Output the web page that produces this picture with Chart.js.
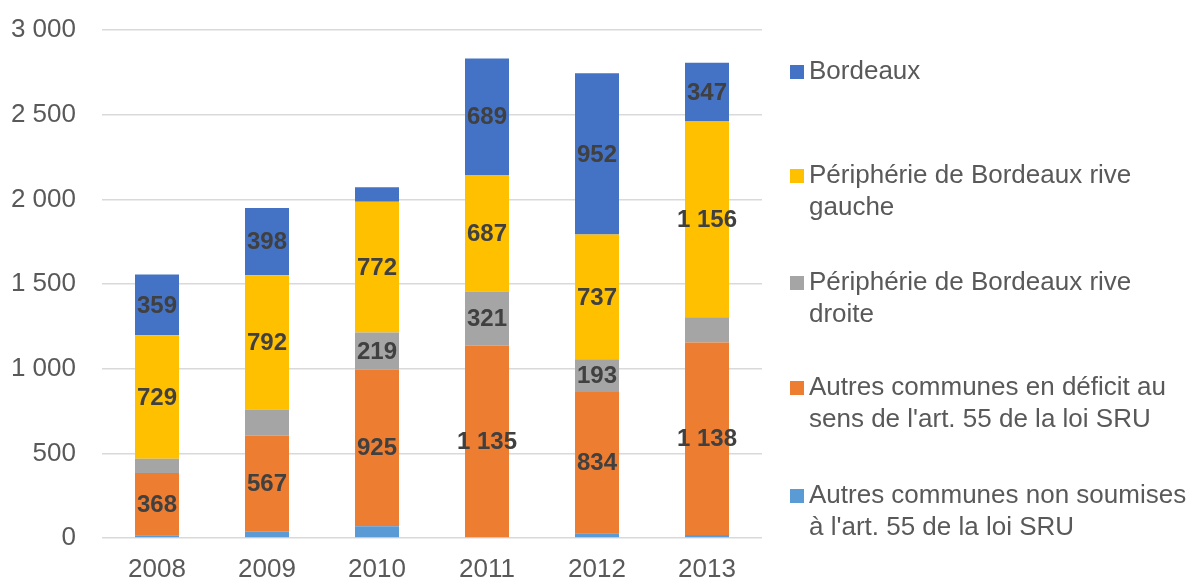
<!DOCTYPE html>
<html>
<head>
<meta charset="utf-8">
<script src="https://cdn.jsdelivr.net/npm/chart.js@4/dist/chart.umd.min.js"></script>
<style>
  html, body { margin: 0; padding: 0; background: #fff; }
  #wrap { width: 1197px; height: 579px; position: relative; }
</style>
</head>
<body>
<div id="wrap"><canvas id="chart" width="1197" height="579"></canvas></div>
<script>
// ===== data =====
const years = ['2008', '2009', '2010', '2011', '2012', '2013'];

const nonSoumises = [16, 37, 70, 0, 28, 17];
const deficit     = [368, 567, 925, 1135, 834, 1138];
const riveDroite  = [84, 155, 219, 321, 193, 149];
const riveGauche  = [729, 792, 772, 687, 737, 1156];
const bordeaux    = [359, 398, 85, 689, 952, 347];

const seriesNames = [
  "Autres communes non soumises à l'art. 55 de la loi SRU",
  "Autres communes en déficit au sens de l'art. 55 de la loi SRU",
  'Périphérie de Bordeaux rive droite',
  'Périphérie de Bordeaux rive gauche',
  'Bordeaux'
];
const seriesColors = ['#5B9BD5', '#ED7D31', '#A5A5A5', '#FFC000', '#4472C4'];
const yTicks = [0, 500, 1000, 1500, 2000, 2500, 3000];

// "3 000" style numbers
const fmt = v => String(v).replace(/\B(?=(\d{3})+(?!\d))/g, ' ');

const FONT = '"Liberation Sans", Arial, sans-serif';

// ===== value labels inside segments =====
const segmentLabels = {
  id: 'segmentLabels',
  afterDatasetsDraw(chart) {
    const ctx = chart.ctx;
    ctx.save();
    ctx.font = 'bold 24px ' + FONT;
    ctx.fillStyle = '#404040';
    ctx.textAlign = 'center';
    ctx.textBaseline = 'middle';
    chart.data.datasets.forEach((ds, i) => {
      const meta = chart.getDatasetMeta(i);
      meta.data.forEach((bar, j) => {
        const v = ds.data[j];
        if (v < 180) return;
        ctx.fillText(fmt(v), bar.x, (bar.y + bar.base) / 2 + 1);
      });
    });
    ctx.restore();
  }
};

// ===== legend on the right, wrapped text =====
const sideLegend = {
  id: 'sideLegend',
  afterDraw(chart) {
    const ctx = chart.ctx;
    const left = 790, maxW = 392, lineH = 32;
    const rows = [72, 176, 283, 388, 496];
    ctx.save();
    ctx.font = '26px ' + FONT;
    ctx.textBaseline = 'middle';
    ctx.textAlign = 'left';
    const order = chart.data.datasets.slice().reverse();
    order.forEach((ds, k) => {
      const y = rows[k];
      ctx.fillStyle = ds.backgroundColor;
      ctx.fillRect(left, y - 7, 14, 14);
      ctx.fillStyle = '#595959';
      const words = ds.label.split(' ');
      let line = '', ly = y;
      words.forEach(w => {
        const test = line ? line + ' ' + w : w;
        if (ctx.measureText(test).width > maxW && line) {
          ctx.fillText(line, left + 19, ly);
          line = w;
          ly += lineH;
        } else {
          line = test;
        }
      });
      ctx.fillText(line, left + 19, ly);
    });
    ctx.restore();
  }
};

const seriesData = [nonSoumises, deficit, riveDroite, riveGauche, bordeaux];

new Chart(document.getElementById('chart'), {
  type: 'bar',
  data: {
    labels: years,
    datasets: seriesData.map((d, i) => ({
      label: seriesNames[i],
      data: d,
      backgroundColor: seriesColors[i],
      borderWidth: 0,
      categoryPercentage: 1,
      barPercentage: 0.4
    }))
  },
  options: {
    responsive: false,
    animation: false,
    devicePixelRatio: 1,
    layout: { padding: { top: 30, right: 435, bottom: 0, left: 0 } },
    plugins: {
      legend: { display: false },
      tooltip: { enabled: false }
    },
    scales: {
      x: {
        stacked: true,
        grid: { display: false },
        border: { display: false },
        ticks: {
          color: '#595959',
          font: { family: FONT, size: 26 },
          padding: 8
        },
        afterFit(scale) { scale.height = 41; }
      },
      y: {
        stacked: true,
        min: 0,
        max: 3000,
        afterBuildTicks(scale) { scale.ticks = yTicks.map(v => ({ value: v })); },
        // invisible tick marks keep the labels clear of the plot
        grid: { color: '#d9d9d9', lineWidth: 1.5, drawTicks: true, tickLength: 26, tickColor: 'rgba(0,0,0,0)' },
        border: { display: false },
        ticks: {
          color: '#595959',
          font: { family: FONT, size: 26 },
          padding: 0,
          callback: v => fmt(v)
        },
        afterFit(scale) { scale.width = 102; }
      }
    }
  },
  plugins: [segmentLabels, sideLegend]
});
</script>
</body>
</html>
